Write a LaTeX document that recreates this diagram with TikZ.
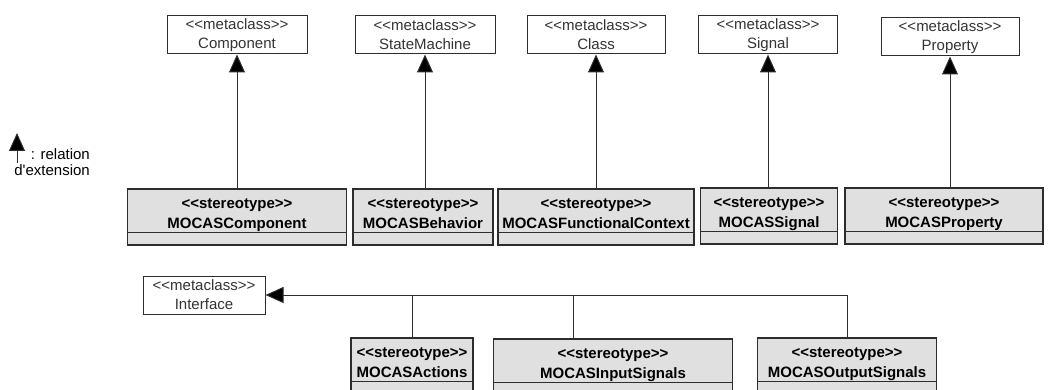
\documentclass[tikz,border=0pt]{standalone}
\usepackage{fontspec}
\setmainfont{Liberation Sans}
\usetikzlibrary{arrows.meta}
\definecolor{boxgray}{RGB}{224,224,224}
\definecolor{linegray}{RGB}{45,45,45}
\newcommand\mclabel[1]{<{}<metaclass>{}>\\#1}
\newcommand\stlabel[1]{<{}<stereotype>{}>\\#1}

\begin{document}
\begin{tikzpicture}[x=1pt, y=-1pt]
    \tikzset{metaclass/.style={draw=linegray, line width=1pt, fill=white, text=black!80, align=center, inner sep=0pt, minimum height=38pt, font=\fontsize{15}{19}\selectfont},
             stereotype/.style={draw=linegray, line width=1.2pt, fill=boxgray, align=center, inner sep=0pt, minimum height=56pt, text depth=7pt, font=\bfseries\fontsize{15}{20}\selectfont,
                 path picture={\draw[linegray, line width=1pt] ([yshift=13pt]path picture bounding box.south west) -- ([yshift=13pt]path picture bounding box.south east);}},
             ext/.style={-{Triangle[width=16pt, length=18pt, fill=black]}, line width=1pt, draw=linegray}}
    \useasboundingbox (0,0) rectangle (1049,390);
    \clip (0,0) rectangle (1049,390);
    % metaclasses
    \node[metaclass, minimum width=140pt] (mcComponent) at (237,35) {\mclabel{Component}};
    \node[metaclass, minimum width=140pt] (mcStateMachine) at (425,35) {\mclabel{StateMachine}};
    \node[metaclass, minimum width=138pt] (mcClass) at (596,35) {\mclabel{Class}};
    \node[metaclass, minimum width=139pt] (mcSignal) at (768,35) {\mclabel{Signal}};
    \node[metaclass, minimum width=138pt] (mcProperty) at (950,37) {\mclabel{Property}};
    \node[metaclass, minimum width=122pt] (mcInterface) at (204,295) {\mclabel{Interface}};
    % stereotypes
    \node[stereotype, minimum width=219pt] (stComponent) at (237,217) {\stlabel{MOCASComponent}};
    \node[stereotype, minimum width=140pt] (stBehavior) at (423,217) {\stlabel{MOCASBehavior}};
    \node[stereotype, minimum width=196pt] (stFunctionalContext) at (596,217) {\stlabel{MOCASFunctionalContext}};
    \node[stereotype, minimum width=137pt] (stSignal) at (769,216) {\stlabel{MOCASSignal}};
    \node[stereotype, minimum width=198pt] (stProperty) at (944,216) {\stlabel{MOCASProperty}};
    \node[stereotype, minimum width=122pt] (stActions) at (412,366) {\stlabel{MOCASActions}};
    \node[stereotype, minimum width=239pt] (stInputSignals) at (613,367) {\stlabel{MOCASInputSignals}};
    \node[stereotype, minimum width=179pt] (stOutputSignals) at (847,366) {\stlabel{MOCASOutputSignals}};
    % legend
    \coordinate (legTip) at (17,133);
    \coordinate (legTail) at (17,163);
    \node[align=right, inner sep=0pt, anchor=north east, font=\fontsize{15}{16}\selectfont] (legend) at (90,148) {: relation\\d\textquotesingle extension};
    \draw[ext] (legTail) -- (legTip);
    % extensions
    \draw[ext] (stComponent.north -| mcComponent.south) -- (mcComponent.south);
    \draw[ext] (stBehavior.north -| mcStateMachine.south) -- (mcStateMachine.south);
    \draw[ext] (stFunctionalContext.north -| mcClass.south) -- (mcClass.south);
    \draw[ext] (stSignal.north -| mcSignal.south) -- (mcSignal.south);
    \draw[ext] (stProperty.north -| mcProperty.south) -- (mcProperty.south);
    \draw[ext] (stOutputSignals.north) |- (mcInterface.east);
    \draw[linegray, line width=1pt] (stActions.north) -- (stActions.north |- mcInterface.east);
    \draw[linegray, line width=1pt] ([xshift=-40pt]stInputSignals.north) -- ([xshift=-40pt]stInputSignals.north |- mcInterface.east);
\end{tikzpicture}
\end{document}
